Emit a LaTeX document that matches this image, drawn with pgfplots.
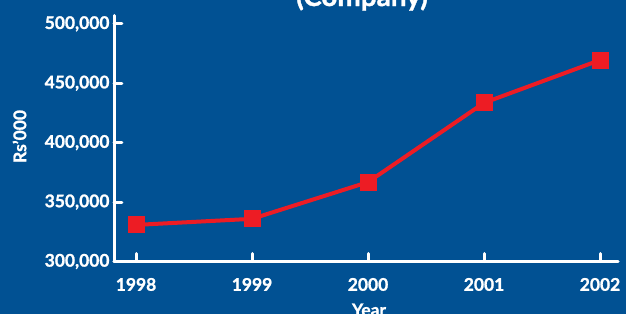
\documentclass[border=0pt]{standalone}
\usepackage{pgfplots}
\pgfplotsset{compat=1.18}
\usepackage{fontspec}
\setmainfont{Lato}[BoldFeatures={FakeBold=1.2}]
\definecolor{bg}{RGB}{1,81,147}
\definecolor{lred}{RGB}{237,28,36}
\begin{document}
\begin{tikzpicture}[x=1bp,y=1bp]
\fill[bg] (0,0) rectangle (626,314);
\clip (0,0) rectangle (626,314);
\begin{axis}[
  at={(114bp,52.5bp)}, anchor=south west,
  scale only axis, width=504bp, height=246bp,
  xmin=1997.81, xmax=2002.155,
  ymin=300000, ymax=507000,
  axis lines*=left,
  axis line style={white, line width=3bp, line cap=round},
  xtick={1998,1999,2000,2001,2002},
  xticklabels={1998,1999,2000,2001,2002},
  ytick={300000,350000,400000,450000,500000},
  scaled y ticks=false,
  yticklabel={\pgfmathprintnumber[assume math mode=true,1000 sep={,},fixed]{\tick}},
  tick align=inside,
  xtick pos=left, ytick pos=left,
  major tick length=8bp,
  tick style={white, line width=3bp, line cap=round},
  ticklabel style={white, font=\bfseries\fontsize{17.5}{17.5}\selectfont},
  xticklabel style={yshift=-13bp},
  yticklabel style={xshift=-1bp},
  clip=false,
]
\addplot[lred, line width=4bp, mark=square*, mark size=8bp, mark options={lred, line width=0pt}]
  coordinates {(1998,330800) (1999,335900) (2000,366800) (2001,433500) (2002,469500)};
\end{axis}
\node[white, font=\bfseries\fontsize{17.5}{17.5}\selectfont, anchor=north] at (369,14) {Year};
\node[white, font=\bfseries\fontsize{17.5}{17.5}\selectfont, rotate=90] at (19.5,177.5) {Rs’000};
\node[overlay, white, font=\bfseries\fontsize{28}{28}\selectfont, anchor=base] at (362,308) {(Company)};
\end{tikzpicture}
\end{document}
